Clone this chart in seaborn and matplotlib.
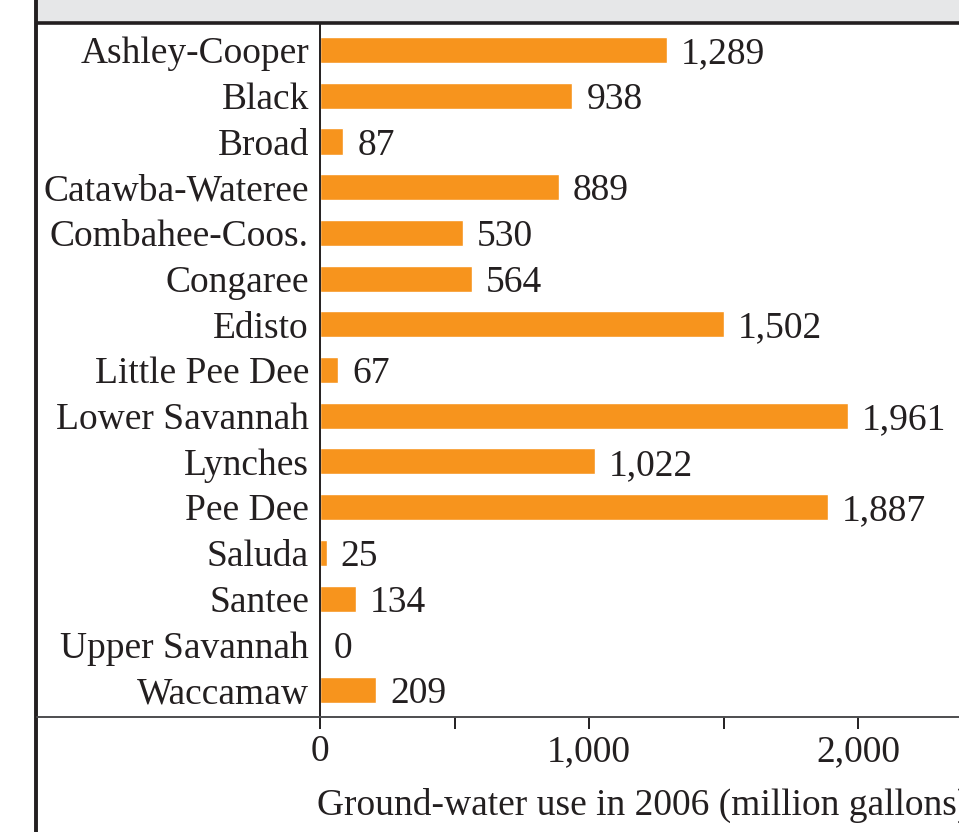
import matplotlib
matplotlib.use("Agg")
import matplotlib.pyplot as plt
from matplotlib.lines import Line2D
from matplotlib.patches import Rectangle
import seaborn as sns

# Ground-water use by basin, 2006 (million gallons)
basins = ["Ashley-Cooper", "Black", "Broad", "Catawba-Wateree", "Combahee-Coos.",
          "Congaree", "Edisto", "Little Pee Dee", "Lower Savannah", "Lynches",
          "Pee Dee", "Saluda", "Santee", "Upper Savannah", "Waccamaw"]
use_2006 = [1289, 938, 87, 889, 530, 564, 1502, 67, 1961, 1022, 1887, 25, 134, 0, 209]
tick_values = [0, 500, 1000, 1500, 2000]
tick_labels = ["0", "", "1,000", "", "2,000"]

ORANGE = "#f7941d"
INK = "#231f20"

sns.set_style("white")
plt.rcParams["font.family"] = ["Liberation Serif", "DejaVu Serif"]
plt.rcParams["text.color"] = INK

W, H = 959, 832
fig = plt.figure(figsize=(W / 100, H / 100), dpi=100)
ax = fig.add_axes([320 / W, 1 - 717 / H, 1 - 320 / W, (717 - 24) / H])

sns.barplot(x=use_2006, y=basins, orient="h", color=ORANGE, width=0.57,
            saturation=1, ax=ax)

ax.set_xlim(0, 2375)
ax.set_ylim(14.59, -0.57)

lbls = ax.bar_label(ax.containers[0], labels=[f"{v:,}" for v in use_2006],
                    padding=10, fontsize=27, color=INK)
for t in lbls:
    t.set_verticalalignment("center_baseline")

for side in ["top", "right", "bottom"]:
    ax.spines[side].set_visible(False)
ax.spines["left"].set_color(INK)
ax.spines["left"].set_linewidth(1.4)

ax.set_xticks(tick_values)
ax.set_xticklabels(tick_labels, fontsize=27, color=INK)
ax.tick_params(axis="x", direction="out", length=8.6, width=1.4, color=INK,
               pad=4, bottom=True)
ax.tick_params(axis="y", length=0, pad=8, labelsize=27, labelcolor=INK)
for t in ax.get_yticklabels():
    t.set_verticalalignment("center_baseline")
ax.set_ylabel("")
ax.set_xlabel("Ground-water use in 2006 (million gallons)", fontsize=27,
              color=INK, loc="left")
ax.xaxis.label.set_horizontalalignment("left")
ax.xaxis.set_label_coords(-0.004, -0.102)

# frame pieces
fig.patches.append(Rectangle((37 / W, 1 - 22 / H), 1, 22 / H,
                             transform=fig.transFigure, facecolor="#e6e7e8",
                             edgecolor="none", zorder=0))
fig.add_artist(Line2D([37 / W, 1], [1 - 23 / H, 1 - 23 / H], color=INK, lw=2.6))
fig.add_artist(Line2D([36 / W, 36 / W], [0, 1], color=INK, lw=2.8))
fig.add_artist(Line2D([37 / W, 1], [1 - 717 / H, 1 - 717 / H], color="#4d4d4f", lw=1.4))

fig.savefig("out.png", dpi=100)
